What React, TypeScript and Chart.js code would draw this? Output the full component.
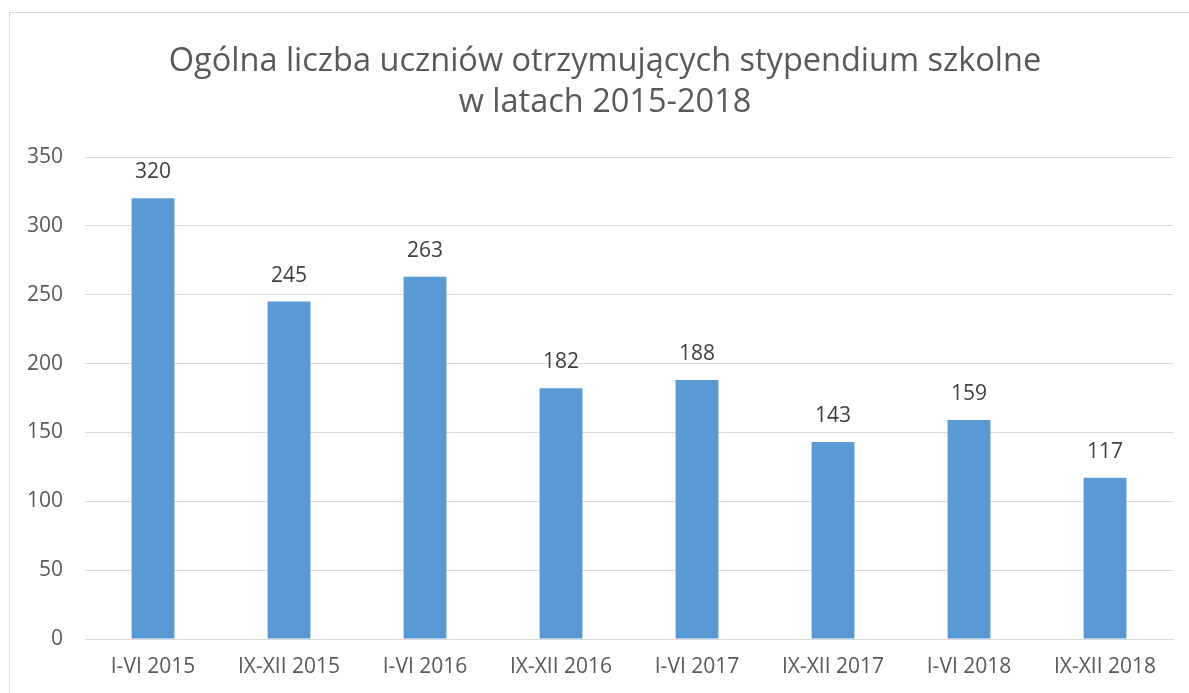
import React, { useEffect, useRef } from "react";
import { Chart, registerables } from "chart.js";

Chart.register(...registerables);

const categories = ["I-VI 2015", "IX-XII 2015", "I-VI 2016", "IX-XII 2016", "I-VI 2017", "IX-XII 2017", "I-VI 2018", "IX-XII 2018"];
const values = [320, 245, 263, 182, 188, 143, 159, 117];
const titleLines = ["Ogólna liczba uczniów otrzymujących stypendium szkolne", "w latach 2015-2018"];

const FONT = "'Open Sans', sans-serif";

const dataLabels = {
  id: "dataLabels",
  afterDatasetsDraw(chart: any) {
    const ctx = chart.ctx;
    const meta = chart.getDatasetMeta(0);
    ctx.save();
    ctx.font = `21px ${FONT}`;
    ctx.fillStyle = "#404040";
    ctx.textAlign = "center";
    ctx.textBaseline = "middle";
    meta.data.forEach((bar: any, i: number) => {
      ctx.fillText(String(values[i]), bar.x, bar.y - 26);
    });
    ctx.restore();
  },
};

const titleDraw = {
  id: "titleDraw",
  afterDraw(chart: any) {
    const ctx = chart.ctx;
    ctx.save();
    ctx.font = `32.5px ${FONT}`;
    ctx.fillStyle = "#595959";
    ctx.textAlign = "center";
    ctx.textBaseline = "middle";
    titleLines.forEach((line, i) => {
      ctx.fillText(line, 605, 62 + i * 41);
    });
    ctx.restore();
  },
};

export default function App() {
  const ref = useRef<HTMLCanvasElement>(null);
  useEffect(() => {
    if (!ref.current) return;
    const chart = new Chart(ref.current, {
      type: "bar",
      data: {
        labels: categories,
        datasets: [
          {
            data: values,
            backgroundColor: "#5b9bd5",
            categoryPercentage: 1,
            barPercentage: 0.315,
          },
        ],
      },
      options: {
        animation: false,
        responsive: false,
        maintainAspectRatio: false,
        layout: { padding: { top: 157, left: 0, right: 16, bottom: 0 } },
        plugins: {
          legend: { display: false },
          tooltip: { enabled: false },
          title: { display: false },
        },
        scales: {
          x: {
            grid: { display: false, drawTicks: false },
            border: { display: true, color: "#d9d9d9", width: 1 },
            ticks: { color: "#595959", font: { family: FONT, size: 21 }, padding: 15, maxRotation: 0, autoSkip: false },
            afterFit: (s: any) => { s.height = 54; },
          },
          y: {
            min: 0,
            max: 350,
            grid: { color: "#d9d9d9", lineWidth: 1, drawTicks: false },
            border: { display: false },
            ticks: { stepSize: 50, color: "#595959", font: { family: FONT, size: 21 }, padding: 22 },
            afterFit: (s: any) => { s.width = 85; },
          },
        },
      },
      plugins: [dataLabels, titleDraw],
    });
    return () => chart.destroy();
  }, []);
  return (
    <div style={{ position: "fixed", left: 0, top: 0, width: 1189, height: 693, overflow: "hidden", background: "#fff" }}>
      <div style={{ position: "absolute", left: 9, top: 12, width: 1200, height: 700, border: "1px solid #d9d9d9", boxSizing: "border-box" }} />
      <canvas ref={ref} width={1189} height={693} style={{ position: "absolute", left: 0, top: 0, width: 1189, height: 693 }} />
    </div>
  );
}
